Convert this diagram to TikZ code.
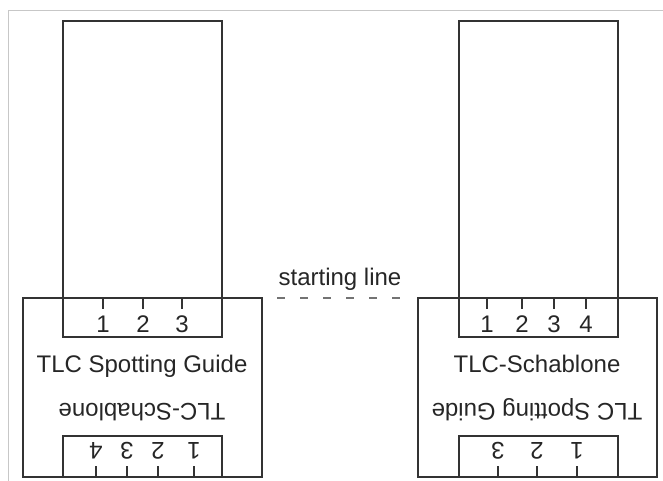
\documentclass[tikz,border=0pt]{standalone}
\usepackage{fontspec}
\setmainfont{Liberation Sans}
\begin{document}
\begin{tikzpicture}[x=1pt,y=-1pt,
  ink/.style={draw=black!80,line width=1.3pt},
  lbl/.style={inner sep=0pt,anchor=base,text=black!85,font=\fontsize{24}{28}\selectfont},
  flip/.style={lbl,rotate=180},
  tick/.style={ink},
  frame/.style={draw=black!22,line width=0.8pt}]
\useasboundingbox (0,0) rectangle (663,481);
% thin page frame
\coordinate (f1) at (8.5,481); \coordinate (f2) at (8.5,10.5); \coordinate (f3) at (663,10.5);
\draw[frame] (f1) -- (f2) -- (f3);

% ---------- left plate ----------
\draw[ink] (23,298) rectangle (262,477);
\draw[ink] (63,21) rectangle (222,337);
\draw[ink] (63,477) -- (63,436) -- (222,436) -- (222,477);
\foreach \x/\n in {103/1,143/2,182/3}{
  \draw[tick] (\x,298) -- (\x,309);
  \node[lbl] (la\n) at (\x,332) {\n};
}
\node[lbl] (ltxt) at (142,372) {TLC Spotting Guide};
\node[flip] (lflip) at (142,403) {TLC-Schablone};
\foreach \x/\n in {96/4,127/3,158/2,194/1}{
  \draw[tick] (\x,466) -- (\x,477);
  \node[flip] (lb\n) at (\x,442) {\n};
}

% ---------- right plate ----------
\draw[ink] (418,298) rectangle (657,477);
\draw[ink] (459,21) rectangle (618,337);
\draw[ink] (459,477) -- (459,436) -- (618,436) -- (618,477);
\foreach \x/\n in {487/1,522/2,554/3,586/4}{
  \draw[tick] (\x,298) -- (\x,309);
  \node[lbl] (ra\n) at (\x,332) {\n};
}
\node[lbl] (rtxt) at (537,372) {TLC-Schablone};
\node[flip] (rflip) at (537,403) {TLC Spotting Guide};
\foreach \x/\n in {498/3,537/2,577/1}{
  \draw[tick] (\x,466) -- (\x,477);
  \node[flip] (rb\n) at (\x,442) {\n};
}

% ---------- starting line ----------
\node[lbl] (start) at (340,285) {starting line};
\coordinate (s1) at (277,298); \coordinate (s2) at (405,298);
\draw[draw=black!55,line width=1.3pt,dash pattern=on 8pt off 15pt] (s1) -- (s2);
\end{tikzpicture}
\end{document}
